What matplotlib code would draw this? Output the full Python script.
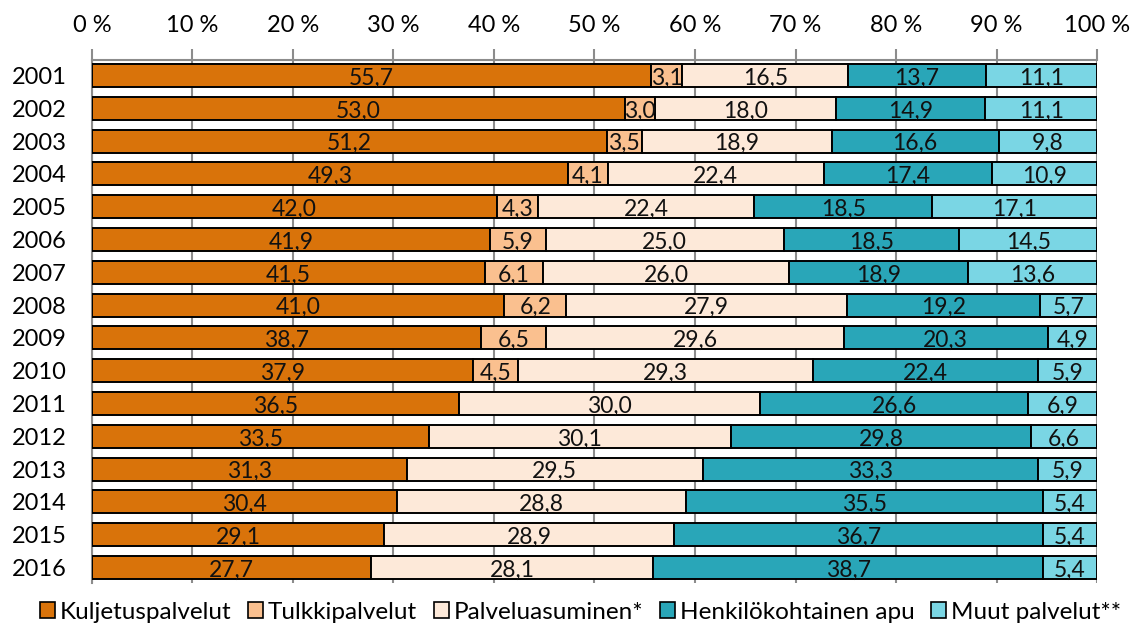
import matplotlib
matplotlib.use("Agg")
import matplotlib.pyplot as plt
import numpy as np
from matplotlib.patches import Patch

years = ["2001", "2002", "2003", "2004", "2005", "2006", "2007", "2008",
         "2009", "2010", "2011", "2012", "2013", "2014", "2015", "2016"]
series_names = ["Kuljetuspalvelut", "Tulkkipalvelut", "Palveluasuminen*",
                "Henkilökohtainen apu", "Muut palvelut**"]
kuljetus = [55.7, 53.0, 51.2, 49.3, 42.0, 41.9, 41.5, 41.0, 38.7, 37.9, 36.5, 33.5, 31.3, 30.4, 29.1, 27.7]
tulkki = [3.1, 3.0, 3.5, 4.1, 4.3, 5.9, 6.1, 6.2, 6.5, 4.5, 0, 0, 0, 0, 0, 0]
asuminen = [16.5, 18.0, 18.9, 22.4, 22.4, 25.0, 26.0, 27.9, 29.6, 29.3, 30.0, 30.1, 29.5, 28.8, 28.9, 28.1]
apu = [13.7, 14.9, 16.6, 17.4, 18.5, 18.5, 18.9, 19.2, 20.3, 22.4, 26.6, 29.8, 33.3, 35.5, 36.7, 38.7]
muut = [11.1, 11.1, 9.8, 10.9, 17.1, 14.5, 13.6, 5.7, 4.9, 5.9, 6.9, 6.6, 5.9, 5.4, 5.4, 5.4]
ticks = [0, 10, 20, 30, 40, 50, 60, 70, 80, 90, 100]

colors = ["#D9730A", "#FAC08F", "#FDE9D9", "#29A6B8", "#7AD6E4"]

plt.rcParams['font.family'] = ['Lato', 'DejaVu Sans']

data = np.array([kuljetus, tulkki, asuminen, apu, muut], dtype=float)
totals = data.sum(axis=0)
shares = data / totals * 100

fig = plt.figure(figsize=(11.34, 6.26), dpi=100)
ax = fig.add_axes([0.0811, 0.0687, 0.9674 - 0.0811, 0.904 - 0.0687])

y = np.arange(len(years))
left = np.zeros(len(years))
for i in range(5):
    w = shares[i]
    ax.barh(y, w, left=left, height=0.70, color=colors[i], edgecolor="black",
            linewidth=1.4, zorder=3)
    for j in range(len(years)):
        if data[i, j] > 0:
            ax.text(left[j] + w[j] / 2, y[j] + 0.08, f"{data[i, j]:.1f}".replace(".", ","),
                    ha="center", va="center", fontsize=16.5, color="#111111", zorder=4)
    left = left + w

ax.set_xlim(0, 100)
ax.set_ylim(15.47, -0.47)
ax.set_yticks(y)
ax.set_yticklabels(years, fontsize=17)
ax.xaxis.tick_top()
ax.set_xticks(ticks)
ax.set_xticklabels([f"{t} %" for t in ticks], fontsize=17)
ax.tick_params(axis="x", length=8, width=1.5, color="#8c8c8c", pad=9)
ax.tick_params(axis="y", length=0, pad=18)
ax.grid(axis="x", color="#8c8c8c", linewidth=1.5, zorder=0)
ax.set_axisbelow(True)
for s in ["right", "bottom"]:
    ax.spines[s].set_visible(False)
ax.spines["left"].set_color("#8c8c8c")
ax.spines["left"].set_linewidth(1.5)
ax.spines["top"].set_color("#8c8c8c")
ax.spines["top"].set_linewidth(1.5)

handles = [Patch(facecolor=c, edgecolor="black", linewidth=1.2) for c in colors]
fig.legend(handles, series_names, loc="center", bbox_to_anchor=(0.512, 0.022), ncol=5,
           frameon=False, fontsize=17.5, handlelength=0.6, handleheight=0.6,
           handletextpad=0.2, columnspacing=0.7, borderaxespad=0)

fig.savefig("out.png", dpi=100)
